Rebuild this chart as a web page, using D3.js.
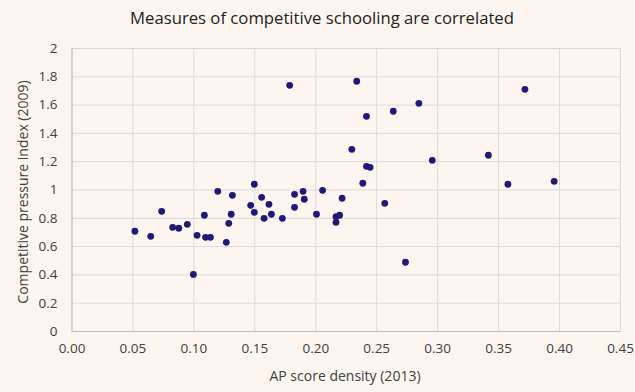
<!doctype html>
<html lang="en">
  <head>
    <meta charset="utf-8">
    <title>Measures of competitive schooling</title>
    <script src="https://d3js.org/d3.v7.min.js"></script>
    <style>
      body { margin: 0; background: #fdf6f0; }
      text { font-family: "Open Sans", Lato, sans-serif; fill: #404040; }
      .grid line { stroke: #d9d9d9; }
    </style>
  </head>
  <body>
    <div class="holder"></div>
    <script>
      // AP score density (2013) vs Competitive pressure index (2009)
      const apDensity = [0.052, 0.065, 0.074, 0.083, 0.088, 0.095, 0.100, 0.103, 0.109, 0.110,
        0.114, 0.120, 0.127, 0.129, 0.131, 0.132, 0.147, 0.150, 0.150, 0.156,
        0.158, 0.162, 0.164, 0.173, 0.179, 0.183, 0.183, 0.190, 0.191, 0.201,
        0.206, 0.217, 0.220, 0.217, 0.222, 0.230, 0.234, 0.239, 0.242, 0.245,
        0.242, 0.257, 0.264, 0.274, 0.285, 0.296, 0.342, 0.358, 0.372, 0.396]
      const pressure = [0.705, 0.669, 0.846, 0.733, 0.726, 0.754, 0.400, 0.676, 0.818, 0.662,
        0.662, 0.987, 0.627, 0.761, 0.825, 0.959, 0.888, 1.037, 0.839, 0.945,
        0.796, 0.895, 0.825, 0.796, 1.736, 0.874, 0.966, 0.987, 0.931, 0.825,
        0.994, 0.808, 0.818, 0.768, 0.938, 1.284, 1.765, 1.044, 1.164, 1.157,
        1.517, 0.902, 1.553, 0.486, 1.609, 1.206, 1.242, 1.037, 1.708, 1.058]
      const xTicks = [0, 0.05, 0.10, 0.15, 0.20, 0.25, 0.30, 0.35, 0.40, 0.45]
      const yTicks = [0, 0.2, 0.4, 0.6, 0.8, 1, 1.2, 1.4, 1.6, 1.8, 2]

      const w = 635
      const h = 392
      const padLeft = 71.5, padRight = 620, padTop = 48, padBottom = 331

      const svg = d3.select('.holder')
        .append('svg')
        .attr('width', w)
        .attr('height', h)

      svg.append('rect')
        .attr('width', w).attr('height', h)
        .attr('fill', '#fdf6f0')

      const xScale = d3.scaleLinear().domain([0, 0.45]).range([padLeft, padRight])
      const yScale = d3.scaleLinear().domain([0, 2]).range([padBottom, padTop])

      // gridlines
      svg.append('g')
        .attr('class', 'grid')
        .attr('transform', 'translate(0,' + padBottom + ')')
        .call(d3.axisBottom(xScale).tickValues(xTicks).tickSize(-(padBottom - padTop)).tickFormat(''))
        .call(g => g.select('.domain').remove())
      svg.append('g')
        .attr('class', 'grid')
        .attr('transform', 'translate(' + padLeft + ',0)')
        .call(d3.axisLeft(yScale).tickValues(yTicks).tickSize(-(padRight - padLeft)).tickFormat(''))
        .call(g => g.select('.domain').remove())

      // axes
      const xAxis = svg.append('g')
        .attr('transform', 'translate(0,' + padBottom + ')')
        .call(d3.axisBottom(xScale).tickValues(xTicks).tickSize(0).tickPadding(12).tickFormat(d3.format('.2f')))
      xAxis.select('.domain').attr('stroke', '#bfbfbf')
      xAxis.selectAll('text').attr('font-size', 13.5)

      const yAxis = svg.append('g')
        .attr('transform', 'translate(' + padLeft + ',0)')
        .call(d3.axisLeft(yScale).tickValues(yTicks).tickSize(0).tickPadding(14).tickFormat(d3.format('')))
      yAxis.select('.domain').attr('stroke', '#bfbfbf')
      yAxis.selectAll('text').attr('font-size', 13.5)

      // points
      svg.selectAll('circle')
        .data(apDensity)
        .enter()
        .append('circle')
        .attr('cx', d => xScale(d))
        .attr('cy', (d, i) => yScale(pressure[i]))
        .attr('r', 3.4)
        .attr('fill', '#1f1a77')

      // titles
      svg.append('text')
        .attr('x', 322).attr('y', 24)
        .attr('text-anchor', 'middle')
        .attr('font-size', 16.7)
        .style('fill', '#222222')
        .text('Measures of competitive schooling are correlated')
      svg.append('text')
        .attr('x', 345).attr('y', 381)
        .attr('text-anchor', 'middle')
        .attr('font-size', 14)
        .text('AP score density (2013)')
      svg.append('text')
        .attr('transform', 'translate(28,192) rotate(-90)')
        .attr('text-anchor', 'middle')
        .attr('font-size', 14)
        .text('Competitive pressure index (2009)')
    </script>
  </body>
</html>
